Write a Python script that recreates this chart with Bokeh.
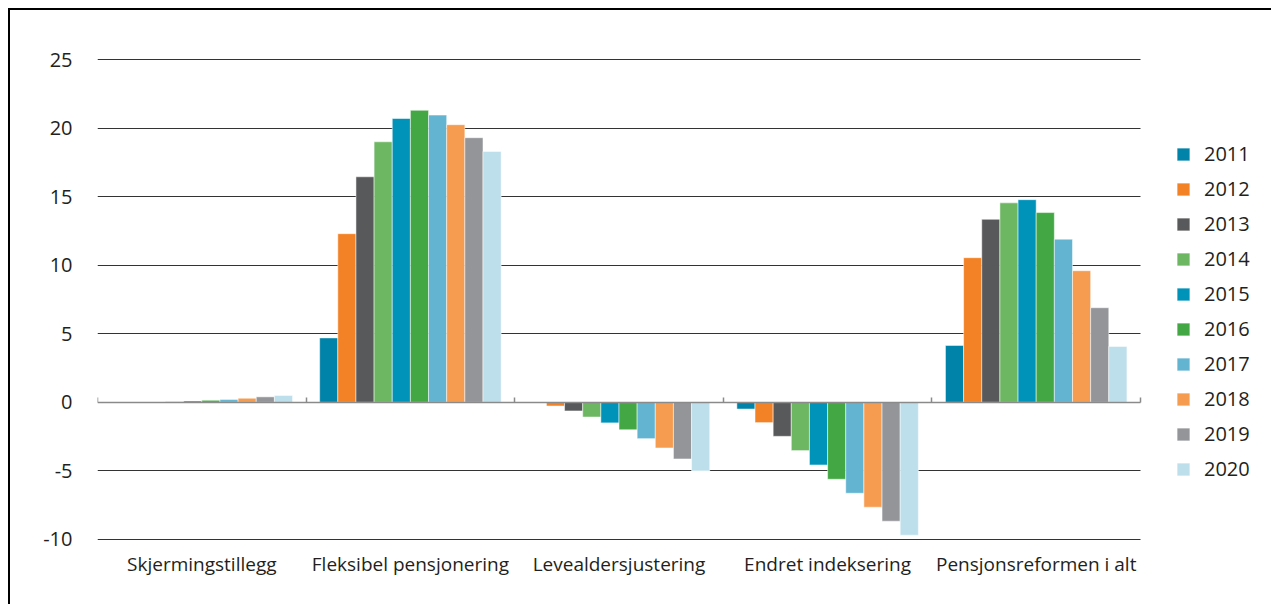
from bokeh.plotting import figure
from bokeh.models import (ColumnDataSource, Range1d, FixedTicker, LinearAxis,
                          Legend, LegendItem)
from bokeh.embed import file_html
from bokeh.resources import INLINE

# Effekt av pensjonsreformen, per komponent og år
categories = ["Skjermingstillegg", "Fleksibel pensjonering", "Levealdersjustering",
              "Endret indeksering", "Pensjonsreformen i alt"]
years = ["2011", "2012", "2013", "2014", "2015", "2016", "2017", "2018", "2019", "2020"]

skjermingstillegg = [0.0, 0.01, 0.02, 0.04, 0.1, 0.15, 0.2, 0.3, 0.4, 0.5]
fleksibel = [4.7, 12.3, 16.45, 19.0, 20.7, 21.3, 20.95, 20.25, 19.3, 18.3]
levealder = [-0.05, -0.27, -0.63, -1.07, -1.5, -2.0, -2.65, -3.33, -4.13, -5.0]
indeksering = [-0.49, -1.48, -2.48, -3.52, -4.57, -5.61, -6.63, -7.65, -8.67, -9.69]
i_alt = [4.15, 10.55, 13.35, 14.55, 14.78, 13.84, 11.9, 9.6, 6.9, 4.08]

y_ticks = [-10, -5, 0, 5, 10, 15, 20, 25]

colors = ["#0083A9", "#F38226", "#58595B", "#6DB662", "#0093BA",
          "#43A843", "#62B4D1", "#F69C51", "#949599", "#BDDFEB"]

series = [skjermingstillegg, fleksibel, levealder, indeksering, i_alt]

FONT = "Open Sans"
TEXT = "#231f20"
BAR_W = 0.087
N = len(categories)

# the frame runs on to the right edge so the legend sits inside it;
# groups occupy x in [0, N], the rest is legend space
p = figure(width=1263, height=596, output_backend="svg", toolbar_location=None,
           x_range=Range1d(0, N * 1176 / 1043), y_range=Range1d(-10.15, 25.15),
           min_border_left=87, min_border_right=0, min_border_top=47,
           min_border_bottom=65)
p.styles = {"margin-left": "8px", "margin-top": "8px",
            "border-left": "2px solid #000", "border-top": "2px solid #000"}
p.outline_line_color = None
p.background_fill_color = "white"

# horizontal grid, limited to the groups
p.xgrid.visible = False
p.ygrid.ticker = FixedTicker(ticks=[t for t in y_ticks if t != 0])
p.ygrid.cross_bounds = (0, N)
p.ygrid.grid_line_color = "#333333"
p.ygrid.grid_line_width = 1

# y axis: labels only, plain hyphen for negatives
p.yaxis.ticker = FixedTicker(ticks=y_ticks)
p.yaxis.major_label_overrides = {t: str(t) for t in y_ticks}
p.yaxis.axis_line_color = None
p.yaxis.major_tick_line_color = None
p.yaxis.minor_tick_line_color = None
p.yaxis.major_label_text_font = FONT
p.yaxis.major_label_text_font_size = "20px"
p.yaxis.major_label_text_color = TEXT
p.yaxis.major_label_standoff = 19

# x axis: category names centred in each group
centers = [i + 0.5 for i in range(N)]
p.xaxis.ticker = FixedTicker(ticks=centers)
p.xaxis.major_label_overrides = {c: name for c, name in zip(centers, categories)}
p.xaxis.axis_line_color = None
p.xaxis.major_tick_line_color = None
p.xaxis.minor_tick_line_color = None
p.xaxis.major_label_text_font = FONT
p.xaxis.major_label_text_font_size = "19px"
p.xaxis.major_label_text_color = TEXT
p.xaxis.major_label_standoff = 3

renderers = []
for j, (year, color) in enumerate(zip(years, colors)):
    xs = [i + 0.5 + (j - 4.5) * BAR_W for i in range(N)]
    tops = [s[j] for s in series]
    src = ColumnDataSource(dict(x=xs, top=tops))
    r = p.vbar(x="x", top="top", bottom=0, width=BAR_W, source=src,
               fill_color=color, line_color="white", line_alpha=0.5, line_width=1)
    renderers.append((year, r))

# zero line with group separators
sep_axis = LinearAxis(fixed_location=0, bounds=(0, N),
                      ticker=FixedTicker(ticks=list(range(N + 1))))
sep_axis.axis_line_color = "#8a8a8a"
sep_axis.axis_line_width = 1.5
sep_axis.major_tick_line_color = "#8a8a8a"
sep_axis.major_tick_line_width = 1.5
sep_axis.major_tick_in = 0
sep_axis.major_tick_out = 5
sep_axis.minor_tick_line_color = None
sep_axis.major_label_text_alpha = 0
sep_axis.major_label_text_font_size = "1px"
p.add_layout(sep_axis, "above")

legend = Legend(items=[LegendItem(label=y, renderers=[r]) for y, r in renderers],
                location=(1078, 59), orientation="vertical")
legend.border_line_color = None
legend.background_fill_alpha = 0
legend.padding = 0
legend.margin = 0
legend.glyph_width = 16
legend.glyph_height = 16
legend.label_height = 20
legend.spacing = 8
legend.label_standoff = 13
legend.label_text_font = FONT
legend.label_text_font_size = "20px"
legend.label_text_color = TEXT
p.add_layout(legend)

open("out.html", "w").write(file_html(p, INLINE))
